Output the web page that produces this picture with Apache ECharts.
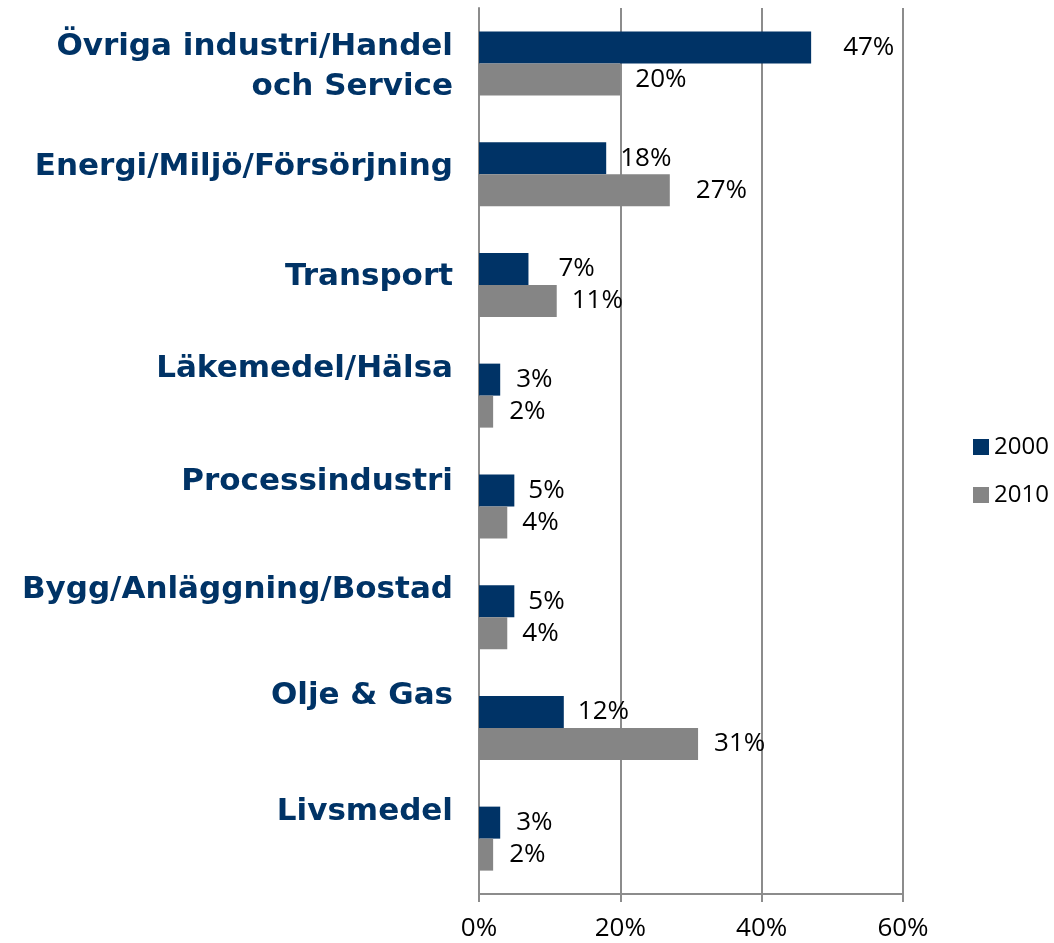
<!DOCTYPE html>
<html>
<head>
<meta charset="utf-8">
<script src="https://cdn.jsdelivr.net/npm/echarts@6/dist/echarts.min.js"></script>
<style>
  html, body { margin: 0; padding: 0; background: #fff; }
  #chart { width: 1054px; height: 943px; }
</style>
</head>
<body>
<div id="chart"></div>
<script>
const categories = ['Övriga industri/Handel\noch Service', 'Energi/Miljö/Försörjning', 'Transport',
  'Läkemedel/Hälsa', 'Processindustri', 'Bygg/Anläggning/Bostad', 'Olje & Gas', 'Livsmedel'];
const seriesNames = ['2000', '2010'];
const values2000 = [47, 18, 7, 3, 5, 5, 12, 3];
const values2010 = [20, 27, 11, 2, 4, 4, 31, 2];
const xTicks = [0, 20, 40, 60];

// layout tweaks: category label lift above band centre, value label gap from bar end (px)
const labelLift = [-4, 7, 8, 27, 24, 27, 32, 27];
const gap2000 = [32, 14, 30, 16, 14, 14, 14, 16];
const gap2010 = [15, 26, 15, 16, 15, 15, 16, 16];

const rich = {};
labelLift.forEach((l, i) => {
  rich['c' + i] = {
    fontFamily: 'DejaVu Sans', fontWeight: 'bold', fontSize: 31, color: '#003366',
    lineHeight: 40, align: 'right',
    padding: l >= 0 ? [0, 0, l * 2, 0] : [-l * 2, 0, 0, 0]
  };
});

const valueFont = { fontFamily: 'Open Sans', fontSize: 26, color: '#000' };
const withGap = (vals, gaps) => vals.map((v, i) => ({ value: v, label: { distance: gaps[i] } }));

var myChart = echarts.init(document.getElementById('chart'));
myChart.setOption({
  animation: false,
  grid: { left: 479, right: 151, top: 8, bottom: 49, containLabel: false },
  legend: {
    orient: 'vertical',
    left: 973, top: 434, padding: 0,
    itemWidth: 16, itemHeight: 16, itemGap: 22,
    icon: 'rect',
    data: seriesNames,
    textStyle: { fontFamily: 'Open Sans', fontSize: 24, color: '#000', lineHeight: 26 }
  },
  xAxis: {
    type: 'value',
    min: xTicks[0], max: xTicks[xTicks.length - 1], interval: 20,
    axisLine: { show: true, lineStyle: { color: '#8c8c8c', width: 2 } },
    axisTick: { show: true, length: 8, lineStyle: { color: '#8c8c8c', width: 2 } },
    splitLine: { show: true, lineStyle: { color: '#8c8c8c', width: 2 } },
    axisLabel: Object.assign({ formatter: '{value}%', margin: 22 }, valueFont)
  },
  yAxis: {
    type: 'category',
    inverse: true,
    data: categories,
    axisLine: { show: true, lineStyle: { color: '#8c8c8c', width: 2 } },
    axisTick: { show: false },
    axisLabel: {
      margin: 26,
      formatter: (val, i) => val.split('\n').map(s => '{c' + i + '|' + s + '}').join('\n'),
      rich: rich
    }
  },
  series: [
    {
      name: seriesNames[0], type: 'bar', data: withGap(values2000, gap2000),
      barWidth: 32, barGap: '0%',
      itemStyle: { color: '#003366' },
      label: Object.assign({ show: true, position: 'right', formatter: '{c}%' }, valueFont)
    },
    {
      name: seriesNames[1], type: 'bar', data: withGap(values2010, gap2010),
      barWidth: 32, barGap: '0%',
      itemStyle: { color: '#858585' },
      label: Object.assign({ show: true, position: 'right', formatter: '{c}%' }, valueFont)
    }
  ]
});
</script>
</body>
</html>
